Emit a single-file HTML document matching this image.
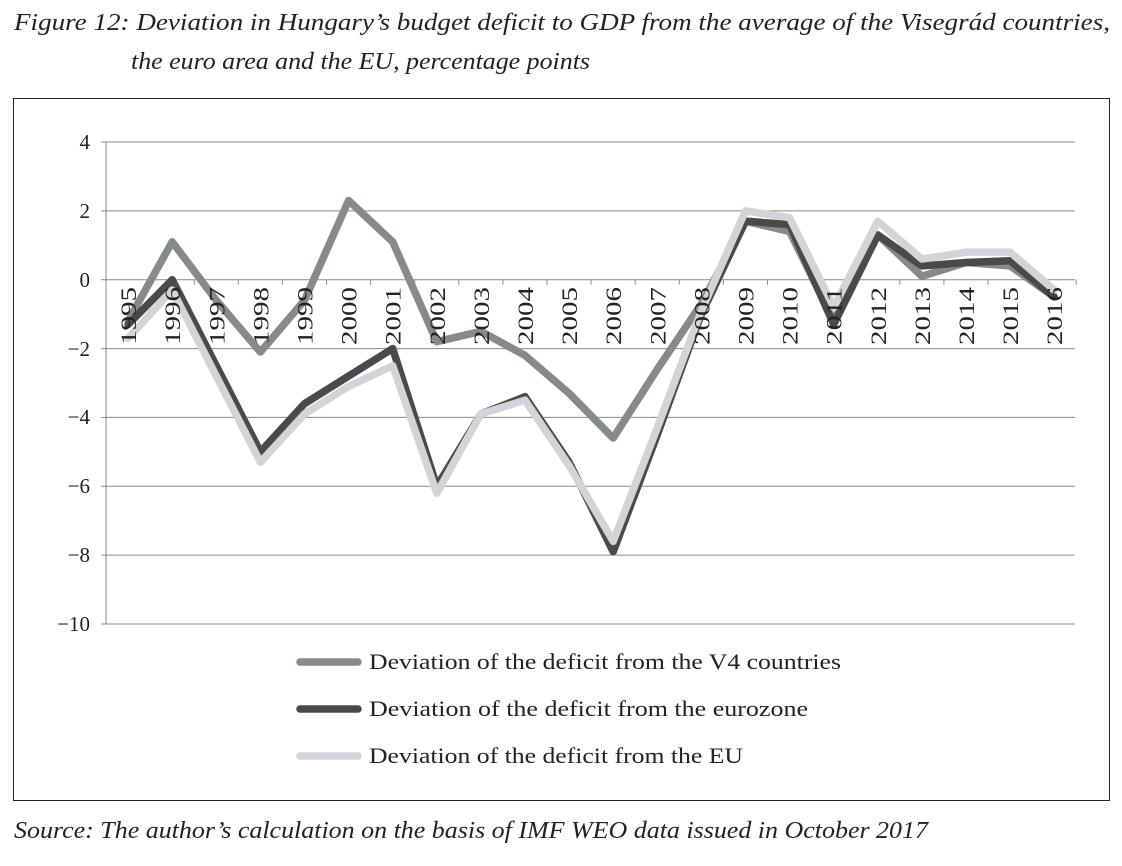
<!DOCTYPE html>
<html><head><meta charset="utf-8"><style>
body{margin:0;background:#fff;width:1122px;height:866px;overflow:hidden}
svg{display:block}
</style></head><body>
<svg width="1122" height="866" xmlns="http://www.w3.org/2000/svg" font-family="Liberation Serif, serif">
<rect width="1122" height="866" fill="#fff"/>
<text x="14" y="30" font-size="24" font-style="italic" fill="#222" textLength="1096" lengthAdjust="spacingAndGlyphs">Figure 12: Deviation in Hungary’s budget deficit to GDP from the average of the Visegrád countries,</text>
<text x="131" y="69" font-size="24" font-style="italic" fill="#222" textLength="459" lengthAdjust="spacingAndGlyphs">the euro area and the EU, percentage points</text>
<rect x="13.5" y="98.5" width="1096" height="702" fill="none" stroke="#222" stroke-width="1"/>
<g stroke="#8a8a8a" stroke-width="1">
<line x1="106" y1="142" x2="1075" y2="142"/>
<line x1="106" y1="210.9" x2="1075" y2="210.9"/>
<line x1="106" y1="279.7" x2="1075" y2="279.7"/>
<line x1="106" y1="348.6" x2="1075" y2="348.6"/>
<line x1="106" y1="417.4" x2="1075" y2="417.4"/>
<line x1="106" y1="486.3" x2="1075" y2="486.3"/>
<line x1="106" y1="555.1" x2="1075" y2="555.1"/>
<line x1="106" y1="624" x2="1075" y2="624"/>
<line x1="106" y1="142" x2="106" y2="624"/>
<line x1="101" y1="142" x2="106" y2="142"/><line x1="101" y1="210.9" x2="106" y2="210.9"/><line x1="101" y1="279.7" x2="106" y2="279.7"/><line x1="101" y1="348.6" x2="106" y2="348.6"/><line x1="101" y1="417.4" x2="106" y2="417.4"/><line x1="101" y1="486.3" x2="106" y2="486.3"/><line x1="101" y1="555.1" x2="106" y2="555.1"/><line x1="101" y1="624" x2="106" y2="624"/>
</g>
<g stroke="#8a8a8a" stroke-width="1" id="ticks"></g>
<g font-size="21" fill="#222" text-anchor="end">
<text x="90" y="149">4</text><text x="90" y="218">2</text><text x="90" y="287">0</text><text x="90" y="356">−2</text><text x="90" y="424">−4</text><text x="90" y="493">−6</text><text x="90" y="562">−8</text><text x="90" y="631">−10</text>
</g>
<g fill="none" stroke-linejoin="round" stroke-linecap="round" stroke-width="7.5" id="lines"></g>
<g font-size="22" fill="#222" id="labels"></g>
<line x1="300" y1="662" x2="358" y2="662" stroke="#858c86" stroke-width="7.5" stroke-linecap="round"/>
<line x1="300" y1="709" x2="358" y2="709" stroke="#4a4a4a" stroke-width="7.5" stroke-linecap="round"/>
<line x1="300" y1="756" x2="358" y2="756" stroke="#d4d4d8" stroke-width="7.5" stroke-linecap="round"/>
<g font-size="22" fill="#222">
<text x="369" y="669" textLength="472" lengthAdjust="spacingAndGlyphs">Deviation of the deficit from the V4 countries</text>
<text x="369" y="716" textLength="439" lengthAdjust="spacingAndGlyphs">Deviation of the deficit from the eurozone</text>
<text x="369" y="763" textLength="374" lengthAdjust="spacingAndGlyphs">Deviation of the deficit from the EU</text>
</g>
<text x="14" y="838" font-size="24" font-style="italic" fill="#222" textLength="914" lengthAdjust="spacingAndGlyphs">Source: The author’s calculation on the basis of IMF WEO data issued in October 2017</text>
<script>
var ns="http://www.w3.org/2000/svg";
function X(i){return 128.1+44.1*i}function Y(v){return 279.7-34.43*v}
var d={
"#858c86":[-1.2,1.1,-0.6,-2.1,-0.6,2.3,1.1,-1.8,-1.5,-2.2,-3.3,-4.6,-2.6,-0.7,1.7,1.4,-1.2,1.3,0.1,0.5,0.4,-0.5],
"#4a4a4a":[-1.3,0,-2.5,-5,-3.6,-2.8,-2.0,-6.0,-3.9,-3.4,-5.3,-7.9,-4.5,-1.0,1.7,1.6,-1.3,1.3,0.4,0.5,0.55,-0.5],
"#d4d4d8":[-1.7,-0.3,-2.8,-5.3,-3.9,-3.1,-2.5,-6.2,-3.9,-3.5,-5.4,-7.6,-4.3,-0.9,2.0,1.8,-0.8,1.7,0.6,0.8,0.8,-0.3]};
var g=document.getElementById("lines");
for(var c in d){var p=document.createElementNS(ns,"polyline");p.setAttribute("stroke",c);
p.setAttribute("points",d[c].map(function(v,i){return X(i)+","+Y(v)}).join(" "));g.appendChild(p);}
var t=document.getElementById("ticks");
for(var k=0;k<=22;k++){var l=document.createElementNS(ns,"line");var x=106+44.1*k;
l.setAttribute("x1",x);l.setAttribute("x2",x);l.setAttribute("y1",279.7);l.setAttribute("y2",284.7);t.appendChild(l);}
var lb=document.getElementById("labels");
for(var i=0;i<22;i++){var tx=document.createElementNS(ns,"text");var x=X(i)+8;
tx.setAttribute("transform","translate("+x+",287) rotate(-90)");tx.setAttribute("text-anchor","end");
tx.setAttribute("textLength","58");tx.setAttribute("lengthAdjust","spacingAndGlyphs");
tx.textContent=1995+i;lb.appendChild(tx);}
</script>
</svg>
</body></html>
